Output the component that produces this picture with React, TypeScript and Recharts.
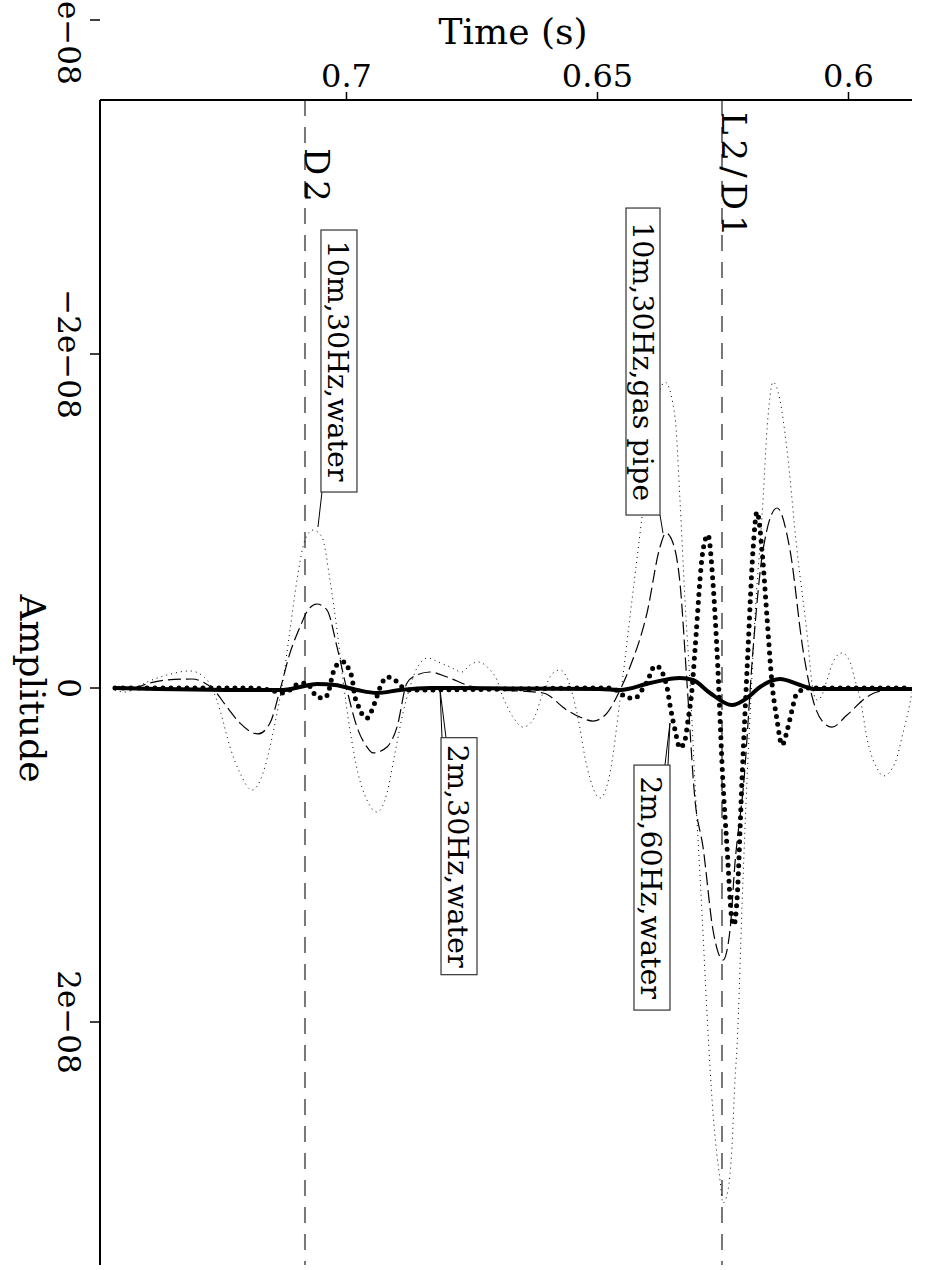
import React from "react";
import {
    Line,
    LineChart,
    ReferenceDot,
    ReferenceLine,
    XAxis,
    YAxis,
} from "recharts";

const FONT = "'DejaVu Serif', serif";

// time axis (s) and amplitude axis (amplitudes in units of 1e-9)
const timeTicks = [0.6, 0.65, 0.7];
const ampTicks = [-40, -20, 0, 20];
const ampTickLabels = ["−4e−08", "−2e−08", "0", "2e−08"];

// 10m, 30Hz, water (thin dotted)
const water10Time = [
    0.74612, 0.74412, 0.73974, 0.73576, 0.73117, 0.72859, 0.72679, 0.7252, 0.72321, 0.72121,
    0.71882, 0.71663, 0.71524, 0.71384, 0.71285, 0.71125, 0.70986, 0.70827, 0.70667, 0.70488,
    0.70329, 0.70189, 0.7007, 0.6993, 0.69771, 0.69592, 0.69392, 0.69193, 0.69034, 0.68875,
    0.68735, 0.68596, 0.68377, 0.68177, 0.67938, 0.67699, 0.6754, 0.6738, 0.67141, 0.67002,
    0.66883, 0.66683, 0.66484, 0.66285, 0.66086, 0.65886, 0.65747, 0.65588, 0.65408, 0.65209,
    0.6495, 0.64751, 0.64552, 0.64353, 0.64114, 0.63894, 0.63655, 0.63456, 0.63357, 0.63257,
    0.63157, 0.63058, 0.62918, 0.62819, 0.62699, 0.6256, 0.625, 0.624, 0.62321, 0.62261,
    0.62221, 0.62102, 0.62022, 0.61962, 0.61863, 0.61723, 0.61604, 0.61504, 0.61365, 0.61225,
    0.61026, 0.60827, 0.60707, 0.60627, 0.60548, 0.60428, 0.60309, 0.60129, 0.5997, 0.5987,
    0.59771, 0.59612, 0.59412, 0.59313, 0.59074, 0.58914, 0.58775, 0.58735,
];
const water10Amp = [
    0.12, 0.24, -0.36, -0.78, -1.02, -0.72, 0, 1.32, 3.53, 5.09,
    6.11, 5.09, 3.53, 1.5, -0.06, -3.47, -6.47, -8.86, -9.46, -9.04,
    -6.47, -3.47, -0.48, 2.51, 5.09, 6.71, 7.43, 6.29, 3.89, 1.5,
    -0.06, -1.2, -1.8, -1.56, -1.26, -0.96, -1.38, -1.56, -1.08, -0.48,
    0.54, 1.74, 2.34, 1.92, 0.3, -0.9, -1.08, -0.48, 1.5, 4.73,
    6.59, 5.09, 0.72, -4.25, -10.24, -15.87, -18.32, -16.23, -11.26, -5.27,
    -0.3, 5.69, 13.47, 19.46, 25.45, 29.46, 30.84, 30.06, 27.48, 23.47,
    21.5, 11.5, 5.51, 1.74, -4.25, -10.24, -16.23, -18.32, -17.25, -14.25,
    -8.26, -3.29, 0.12, 0.72, 0.54, -0.48, -1.56, -2.1, -1.56, -0.48,
    0.6, 3.29, 4.91, 5.27, 4.49, 2.69, 0.9, 0.24,
];

// 10m, 30Hz, gas pipe (thin dashed)
const gas10Time = [
    0.74612, 0.74253, 0.73914, 0.73576, 0.73078, 0.72859, 0.72659, 0.7238, 0.72121, 0.71763,
    0.71524, 0.71325, 0.71125, 0.70926, 0.70767, 0.70588, 0.70388, 0.70189, 0.6999, 0.69791,
    0.69592, 0.69472, 0.69193, 0.68994, 0.68795, 0.68596, 0.68337, 0.67998, 0.6754, 0.67141,
    0.66086, 0.65608, 0.65349, 0.6509, 0.64811, 0.64552, 0.64353, 0.64014, 0.63755, 0.63636,
    0.63496, 0.63357, 0.63217, 0.63058, 0.62898, 0.62699, 0.625, 0.6236, 0.62261, 0.62082,
    0.61902, 0.61703, 0.61424, 0.61165, 0.60906, 0.60707, 0.60508, 0.60329, 0.6003, 0.59632,
    0.59432, 0.58735,
];
const gas10Amp = [
    0.06, 0, -0.3, -0.48, -0.54, -0.36, 0.06, 1.14, 2.1, 2.75,
    2.1, 0.12, -2.1, -3.65, -4.67, -5.03, -4.67, -2.46, 0.12, 2.34,
    3.53, 3.89, 3.53, 2.34, -0.3, -0.78, -0.96, -0.66, -0.12, 0.06,
    0.3, 1.32, 1.74, 1.98, 1.5, 0.12, -1.26, -4.49, -8.44, -9.28,
    -8.68, -6.29, -0.3, 6.71, 9.52, 14.49, 16.29, 14.49, 10.48, 5.51,
    -2.28, -8.26, -10.78, -8.26, -2.28, 0.72, 2.04, 2.34, 1.62, 0.54,
    0.24, 0,
];

// 2m, 30Hz, water (thick solid)
const water2Time = [
    0.74612, 0.71922, 0.71265, 0.70926, 0.70588, 0.70229, 0.69791, 0.69392, 0.68934, 0.68337,
    0.6495, 0.64552, 0.63954, 0.63357, 0.63098, 0.62759, 0.62321, 0.62022, 0.61763, 0.61365,
    0.60966, 0.60667, 0.58735,
];
const water2Amp = [
    0, 0.12, 0.12, -0.06, -0.24, -0.18, 0.12, 0.3, 0.12, 0,
    0.06, 0.12, -0.3, -0.6, -0.48, 0.3, 1.02, 0.6, -0.06, -0.54,
    -0.18, 0.06, 0.06,
];

// 2m, 60Hz, water (thick dotted)
const water60Time = [
    0.74612, 0.71922, 0.71524, 0.71285, 0.71125, 0.70966, 0.70787, 0.70687, 0.70588, 0.70428,
    0.70349, 0.70269, 0.70169, 0.7003, 0.6995, 0.6989, 0.69831, 0.69771, 0.69691, 0.69592,
    0.69492, 0.69432, 0.69293, 0.69193, 0.69034, 0.68894, 0.68735, 0.6495, 0.64711, 0.64552,
    0.64392, 0.64253, 0.64114, 0.64014, 0.63855, 0.63755, 0.63675, 0.63616, 0.63556, 0.63456,
    0.63357, 0.63257, 0.63197, 0.63118, 0.63058, 0.62898, 0.62799, 0.62699, 0.6262, 0.625,
    0.6242, 0.62321, 0.62281, 0.62221, 0.62122, 0.62002, 0.61902, 0.61823, 0.61723, 0.61624,
    0.61524, 0.61424, 0.61325, 0.61205, 0.61125, 0.61026, 0.60767, 0.58735,
];
const water60Amp = [
    0, 0, 0.12, 0.3, 0.12, -0.24, -0.3, 0.12, 0.54, 0.6,
    0.12, -0.9, -1.44, -1.56, -1.08, -0.6, 0.54, 1.02, 1.56, 1.8,
    1.32, 0.84, -0.3, -0.66, -0.48, -0.06, 0.12, 0, 0, 0.3,
    0.6, 0.6, 0.12, -0.36, -1.32, -1.2, -0.66, -0.06, 1.02, 2.51,
    3.59, 3.11, 1.92, 0.12, -2.28, -8.26, -9.16, -6.29, -2.28, 5.69,
    9.52, 13.89, 14.19, 12.69, 5.51, -2.28, -8.26, -10.54, -8.26, -4.25,
    -0.3, 1.92, 3.41, 2.34, 1.32, 0.3, 0, 0,
];

// event markers
const markerTimes = [0.70827, 0.6252];
const markerLabels = ["D2", "L2/D1"];

// curve annotations
const noteTexts = ["10m,30Hz,water", "10m,30Hz,gas pipe", "2m,30Hz,water", "2m,60Hz,water"];
const noteTimes = [0.70568, 0.63695, 0.68137, 0.63556];
const noteAmps = [-9.64, -9.28, 0.1, 2.1];

// box placement relative to the annotated point (pixels)
const noteBoxes = [
    { dx: 3, dy: -297, w: 36, h: 262, lead: [[4, -35]] },
    { dx: -37, dy: -325, w: 34, h: 307, lead: [[-3, -18]] },
    { dx: 1, dy: 48, w: 36, h: 237, lead: [[2, 48], [6, 48]] },
    { dx: -36, dy: 42, w: 36, h: 245, lead: [[-5, 42], [-2, 42]] },
];
const markerOffsets = [48, 12];

const toRows = (times: number[], amps: number[]) =>
    times.map((t, i) => ({ t, v: amps[i] }));

const water10 = toRows(water10Time, water10Amp);
const gas10 = toRows(gas10Time, gas10Amp);
const water2 = toRows(water2Time, water2Amp);
const water60 = toRows(water60Time, water60Amp);

const TimeTick = ({ x, y, payload }: any) => (
    <text x={x} y={y - 3} textAnchor="middle" fontFamily={FONT} fontSize={32} fill="#000">
        {payload.value}
    </text>
);

const AmpTick = ({ x, y, payload }: any) => {
    const bx = x - 30;
    const label = ampTickLabels[ampTicks.indexOf(payload.value)];
    return (
        <text
            x={bx}
            y={y}
            transform={`rotate(90 ${bx} ${y})`}
            textAnchor="middle"
            fontFamily={FONT}
            fontSize={31}
            fill="#000"
        >
            {label}
        </text>
    );
};

const timeTitle = ({ viewBox }: any) => (
    <text
        x={viewBox.x + viewBox.width / 2 + 7}
        y={44}
        textAnchor="middle"
        fontFamily={FONT}
        fontSize={36}
        fill="#000"
    >
        Time (s)
    </text>
);

const ampTitle = ({ viewBox }: any) => {
    const bx = 20;
    const by = viewBox.y + viewBox.height / 2 + 6;
    return (
        <text
            x={bx}
            y={by}
            transform={`rotate(90 ${bx} ${by})`}
            textAnchor="middle"
            fontFamily={FONT}
            fontSize={36}
            fill="#000"
        >
            Amplitude
        </text>
    );
};

const markerLabel = (text: string, offset: number) => ({ viewBox }: any) => {
    const bx = viewBox.x;
    const by = viewBox.y + offset;
    return (
        <text
            x={bx}
            y={by}
            transform={`rotate(90 ${bx} ${by})`}
            textAnchor="start"
            fontFamily={FONT}
            fontSize={34}
            letterSpacing={5}
            fill="#000"
        >
            {text}
        </text>
    );
};

const noteShape = (i: number) => ({ cx, cy }: any) => {
    const box = noteBoxes[i];
    const left = cx + box.dx;
    const top = cy + box.dy;
    const bx = left + 7;
    const by = top + box.h / 2;
    return (
        <g>
            {box.lead.map(([lx, ly], k) => (
                <line key={k} x1={cx} y1={cy} x2={cx + lx} y2={cy + ly} stroke="#000" strokeWidth={1} />
            ))}
            <rect x={left} y={top} width={box.w} height={box.h} fill="#fff" stroke="#333" strokeWidth={1.2} />
            <text
                x={bx}
                y={by}
                transform={`rotate(90 ${bx} ${by})`}
                textAnchor="middle"
                fontFamily={FONT}
                fontSize={28.5}
                fill="#000"
            >
                {noteTexts[i]}
            </text>
        </g>
    );
};

export default function App() {
    return (
        <div
            style={{
                position: "absolute",
                left: 0,
                top: 0,
                width: 925,
                height: 1270,
                background: "#fff",
            }}
        >
            <LineChart width={925} height={1270} margin={{ top: 0, right: 13, bottom: 5, left: 0 }}>
                <XAxis
                    type="number"
                    dataKey="t"
                    domain={[0.58735, 0.7491]}
                    allowDataOverflow
                    reversed
                    orientation="top"
                    height={100}
                    ticks={timeTicks}
                    interval={0}
                    tickSize={8}
                    tick={<TimeTick />}
                    tickLine={{ stroke: "#000", strokeWidth: 1.5 }}
                    axisLine={{ stroke: "#000", strokeWidth: 2 }}
                    label={timeTitle}
                />
                <YAxis
                    type="number"
                    domain={[-35.21, 34.55]}
                    allowDataOverflow
                    reversed
                    width={100}
                    ticks={ampTicks}
                    interval={0}
                    tickSize={10}
                    tick={<AmpTick />}
                    tickLine={{ stroke: "#000", strokeWidth: 1.5 }}
                    axisLine={{ stroke: "#000", strokeWidth: 2 }}
                    label={ampTitle}
                />

                {markerTimes.map((t, i) => (
                    <ReferenceLine
                        key={markerLabels[i]}
                        x={t}
                        stroke="#777"
                        strokeWidth={2}
                        strokeDasharray="16 11"
                        label={markerLabel(markerLabels[i], markerOffsets[i])}
                    />
                ))}

                <Line
                    data={water10}
                    dataKey="v"
                    type="monotone"
                    stroke="#000"
                    strokeWidth={1}
                    strokeDasharray="1 4"
                    dot={false}
                    activeDot={false}
                    isAnimationActive={false}
                />
                <Line
                    data={gas10}
                    dataKey="v"
                    type="monotone"
                    stroke="#000"
                    strokeWidth={1.2}
                    strokeDasharray="13 5"
                    dot={false}
                    activeDot={false}
                    isAnimationActive={false}
                />
                <Line
                    data={water60}
                    dataKey="v"
                    type="monotone"
                    stroke="#000"
                    strokeWidth={5}
                    strokeLinecap="round"
                    strokeDasharray="0 8"
                    dot={false}
                    activeDot={false}
                    isAnimationActive={false}
                />
                <Line
                    data={water2}
                    dataKey="v"
                    type="monotone"
                    stroke="#000"
                    strokeWidth={4}
                    dot={false}
                    activeDot={false}
                    isAnimationActive={false}
                />

                {noteTexts.map((text, i) => (
                    <ReferenceDot
                        key={text}
                        x={noteTimes[i]}
                        y={noteAmps[i]}
                        r={0}
                        shape={noteShape(i)}
                    />
                ))}
            </LineChart>
        </div>
    );
}
